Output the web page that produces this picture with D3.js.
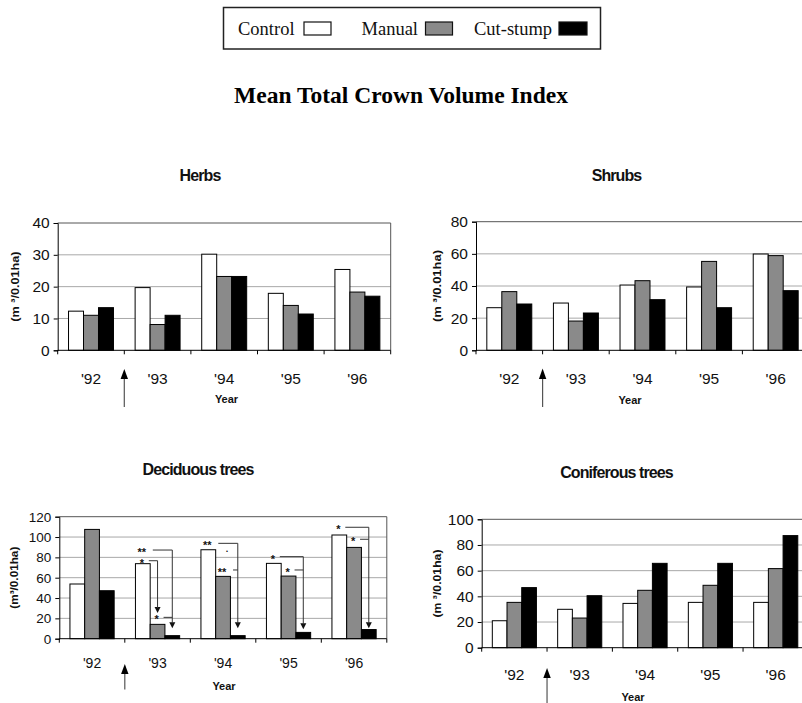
<!DOCTYPE html>
<html>
<head>
<meta charset="utf-8">
<script src="https://cdn.jsdelivr.net/npm/d3@7"></script>
<style>
  html, body { margin: 0; padding: 0; background: #fff; }
  svg { display: block; }
</style>
</head>
<body>
<div id="chart"></div>
<script>
// ---------------- DATA ----------------
const years = ["'92", "'93", "'94", "'95", "'96"];
const seriesNames = ["Control", "Manual", "Cut-stump"];
const seriesColors = ["#ffffff", "#8a8a8a", "#000000"];

const herbsControl = [12.3, 19.7, 30.2, 17.9, 25.4];
const herbsManual  = [11.0, 8.1, 23.2, 14.1, 18.3];
const herbsCut     = [13.4, 11.0, 23.2, 11.4, 17.0];

const shrubsControl = [26.5, 29.4, 40.6, 39.4, 59.9];
const shrubsManual  = [36.5, 18.2, 43.3, 55.3, 58.9];
const shrubsCut     = [28.8, 23.2, 31.5, 26.5, 37.1];

const decidControl = [53.8, 73.8, 87.5, 74.1, 102.0];
const decidManual  = [107.5, 14.1, 61.3, 61.6, 89.8];
const decidCut     = [47.2, 3.0, 3.0, 6.2, 9.0];

const conifControl = [21.0, 29.9, 34.5, 35.3, 35.3];
const conifManual  = [35.3, 23.1, 44.7, 48.6, 61.6];
const conifCut     = [46.8, 40.5, 65.7, 65.7, 87.3];

const herbsTicks = [0, 10, 20, 30, 40];
const shrubsTicks = [0, 20, 40, 60, 80];
const decidTicks = [0, 20, 40, 60, 80, 100, 120];
const conifTicks = [0, 20, 40, 60, 80, 100];

// significance annotations in the deciduous panel (values in data units)
const decidSig = [
  { year: "'93", from: "Control", to: "Cut-stump", label: "**", lineAt: 87.2, tipAt: 10.2 },
  { year: "'93", from: "Control", to: "Manual",    label: "*",  lineAt: 76.7, tipAt: 25.3 },
  { year: "'93", from: "Manual",  to: "Cut-stump", label: "*",  lineAt: 21.0, tipAt: null },
  { year: "'94", from: "Control", to: "Cut-stump", label: "**", lineAt: 93.8, tipAt: 10.2 },
  { year: "'94", from: "Manual",  to: null,        label: ".",  lineAt: 85.6, tipAt: null },
  { year: "'94", from: "Manual",  to: "Cut-stump", label: "**", lineAt: 67.6, tipAt: null },
  { year: "'95", from: "Control", to: "Cut-stump", label: "*",  lineAt: 80.7, tipAt: 9.2 },
  { year: "'95", from: "Manual",  to: "Cut-stump", label: "*",  lineAt: 67.6, tipAt: null },
  { year: "'96", from: "Control", to: "Cut-stump", label: "*",  lineAt: 109.6, tipAt: 10.2 },
  { year: "'96", from: "Manual",  to: "Cut-stump", label: "*",  lineAt: 97.8, tipAt: null }
];

const mainTitle = "Mean Total Crown Volume Index";

// ---------------- LAYOUT ----------------
const W = 802, H = 703;
const SANS = "'Liberation Sans', Arial, Helvetica, sans-serif";
const SERIF = "'Liberation Serif', 'Times New Roman', Times, serif";

const svg = d3.select("#chart").append("svg")
  .attr("width", W).attr("height", H)
  .attr("viewBox", `0 0 ${W} ${H}`);

// Legend
const legend = svg.append("g");
legend.append("rect")
  .attr("x", 223.5).attr("y", 7.5).attr("width", 377).attr("height", 41.5)
  .attr("fill", "none").attr("stroke", "#222").attr("stroke-width", 1.5);
const legendItems = [
  { tx: 238, sx: 304, sw: 27 },
  { tx: 361.5, sx: 425.5, sw: 27 },
  { tx: 474, sx: 559, sw: 28 }
];
seriesNames.forEach((name, i) => {
  legend.append("text")
    .attr("x", legendItems[i].tx).attr("y", 34.5)
    .attr("font-family", SERIF).attr("font-size", 18.5)
    .attr("fill", "#111").text(name);
  legend.append("rect")
    .attr("x", legendItems[i].sx).attr("y", 22).attr("width", legendItems[i].sw).attr("height", 13)
    .attr("fill", seriesColors[i]).attr("stroke", "#111").attr("stroke-width", 1.2);
});

// Main title
svg.append("text")
  .attr("x", 401).attr("y", 103)
  .attr("text-anchor", "middle")
  .attr("font-family", SERIF).attr("font-weight", "bold").attr("font-size", 23.5)
  .attr("fill", "#000").text(mainTitle);

const panels = [
  { title: "Herbs", titleX: 200, titleY: 180.5,
    left: 57.7, top: 223, width: 333, height: 127.3,
    values: [herbsControl, herbsManual, herbsCut], ticks: herbsTicks,
    tickFont: 15.5, xFont: 15.5, xLabelY: 384,
    ylabel: "(m ³/0.01ha)", ylabelX: 15, ylabelLen: 70,
    yearX: 226.5, yearY: 403,
    arrowTip: 369, arrowBase: 379, arrowBottom: 407 },
  { title: "Shrubs", titleX: 616.5, titleY: 180.5,
    left: 476, top: 221.7, width: 333, height: 128.6,
    values: [shrubsControl, shrubsManual, shrubsCut], ticks: shrubsTicks,
    tickFont: 15.5, xFont: 15.5, xLabelY: 384,
    ylabel: "(m ³/0.01ha)", ylabelX: 436.5, ylabelLen: 72,
    yearX: 630, yearY: 404,
    arrowTip: 368.5, arrowBase: 379, arrowBottom: 407 },
  { title: "Deciduous trees", titleX: 198, titleY: 475,
    left: 59.3, top: 516.7, width: 327.5, height: 122,
    values: [decidControl, decidManual, decidCut], ticks: decidTicks,
    tickFont: 13.5, xFont: 14, xLabelY: 668,
    ylabel: "(m³/0.01ha)", ylabelX: 14, ylabelLen: 62,
    yearX: 224, yearY: 690,
    arrowTip: 664, arrowBase: 674, arrowBottom: 689.5,
    sig: decidSig },
  { title: "Coniferous trees", titleX: 616.5, titleY: 477.5,
    left: 481.7, top: 519.3, width: 326.7, height: 128.4,
    values: [conifControl, conifManual, conifCut], ticks: conifTicks,
    tickFont: 15.5, xFont: 15.5, xLabelY: 680.5,
    ylabel: "(m ³/0.01ha)", ylabelX: 436.5, ylabelLen: 68,
    yearX: 633, yearY: 701,
    arrowTip: 668, arrowBase: 678, arrowBottom: 703 }
];

panels.forEach(drawPanel);

function drawPanel(p) {
  const g = svg.append("g").attr("transform", `translate(${p.left},${p.top})`);
  const yMax = p.ticks[p.ticks.length - 1];

  const x0 = d3.scaleBand().domain(years).range([0, p.width]).paddingInner(0).paddingOuter(0);
  const x1 = d3.scaleBand().domain(seriesNames).range([0, x0.bandwidth()])
    .paddingInner(0).paddingOuter(0.722);
  const y = d3.scaleLinear().domain([0, yMax]).range([p.height, 0]);

  // Title
  svg.append("text")
    .attr("x", p.titleX).attr("y", p.titleY).attr("text-anchor", "middle")
    .attr("font-family", SANS).attr("font-weight", "bold").attr("font-size", 16)
    .attr("letter-spacing", "-0.9px").attr("fill", "#111").text(p.title);

  // Gridlines
  g.append("g").selectAll("line")
    .data(p.ticks.filter(t => t > 0 && t < yMax))
    .join("line")
    .attr("x1", 0).attr("x2", p.width)
    .attr("y1", d => y(d)).attr("y2", d => y(d))
    .attr("stroke", "#a8a8a8").attr("stroke-width", 1);

  // Plot frame (top and right)
  g.append("path")
    .attr("d", `M0,${y(yMax)}H${p.width}V${y(0)}`)
    .attr("fill", "none").attr("stroke", "#555").attr("stroke-width", 1);

  // Bars
  seriesNames.forEach((s, si) => {
    g.append("g").selectAll("rect")
      .data(years.map((yr, i) => ({ yr, v: p.values[si][i] })))
      .join("rect")
      .attr("x", d => x0(d.yr) + x1(s))
      .attr("y", d => y(d.v))
      .attr("width", x1.bandwidth())
      .attr("height", d => y(0) - y(d.v))
      .attr("fill", seriesColors[si])
      .attr("stroke", "#000").attr("stroke-width", 1);
  });

  // Y axis
  const yAxis = d3.axisLeft(y).tickValues(p.ticks).tickSize(4).tickPadding(4).tickFormat(d3.format("d"));
  const ya = g.append("g").call(yAxis);
  ya.select(".domain").attr("stroke", "#000");
  ya.selectAll(".tick line").attr("stroke", "#000");
  ya.selectAll(".tick text").attr("font-family", SANS).attr("font-size", p.tickFont).attr("fill", "#111");

  // X axis line and category-boundary ticks
  g.append("line").attr("x1", 0).attr("x2", p.width).attr("y1", y(0)).attr("y2", y(0))
    .attr("stroke", "#000").attr("stroke-width", 1);
  const bounds = years.map(yr => x0(yr)).concat([x0.range()[1]]);
  g.append("g").selectAll("line").data(bounds).join("line")
    .attr("x1", d => d).attr("x2", d => d)
    .attr("y1", y(0)).attr("y2", y(0) + 4)
    .attr("stroke", "#000");

  // Category labels
  g.append("g").selectAll("text").data(years).join("text")
    .attr("x", d => x0(d) + x0.bandwidth() / 2)
    .attr("y", p.xLabelY - p.top)
    .attr("text-anchor", "middle")
    .attr("font-family", SANS).attr("font-size", p.xFont).attr("fill", "#111")
    .text(d => d);

  // Axis titles
  svg.append("text")
    .attr("x", p.yearX).attr("y", p.yearY).attr("text-anchor", "middle")
    .attr("font-family", SANS).attr("font-weight", "bold").attr("font-size", 11)
    .attr("fill", "#111").text("Year");

  const cy = p.top + p.height / 2;
  svg.append("text")
    .attr("transform", `translate(${p.ylabelX + 4},${cy}) rotate(-90)`)
    .attr("text-anchor", "middle")
    .attr("font-family", SANS).attr("font-weight", "bold").attr("font-size", 11)
    .attr("textLength", p.ylabelLen).attr("lengthAdjust", "spacingAndGlyphs")
    .attr("fill", "#111").text(p.ylabel);

  // Treatment arrow at boundary between '92 and '93
  const ax = p.left + x0(years[1]);
  svg.append("line")
    .attr("x1", ax).attr("x2", ax).attr("y1", p.arrowBase).attr("y2", p.arrowBottom)
    .attr("stroke", "#555").attr("stroke-width", 1.2);
  svg.append("path")
    .attr("d", `M${ax},${p.arrowTip}L${ax - 3.7},${p.arrowBase}L${ax + 3.7},${p.arrowBase}Z`)
    .attr("fill", "#000");

  // Significance annotations
  if (p.sig) {
    const cx = (yr, s) => x0(yr) + x1(s) + x1.bandwidth() / 2;
    p.sig.forEach(a => {
      const sx = cx(a.year, a.from);
      const ly = y(a.lineAt);
      const isDot = a.label === ".";
      g.append("text")
        .attr("x", isDot ? sx + 4 : sx - 1).attr("y", isDot ? ly : ly + 6)
        .attr("text-anchor", "middle")
        .attr("font-family", SANS).attr("font-weight", "bold")
        .attr("font-size", isDot ? 9 : 11).attr("fill", "#111")
        .text(a.label);
      if (a.to) {
        const tx = cx(a.year, a.to);
        const startX = sx + (a.label.length === 2 ? 10 : 6);
        let d = `M${startX},${ly}H${tx}`;
        if (a.tipAt !== null) {
          const tipY = y(a.tipAt);
          d += `V${tipY - 5}`;
          g.append("path")
            .attr("d", `M${tx},${tipY}L${tx - 3},${tipY - 6}L${tx + 3},${tipY - 6}Z`)
            .attr("fill", "#111");
        }
        g.append("path").attr("d", d)
          .attr("fill", "none").attr("stroke", "#333").attr("stroke-width", 1);
      }
    });
  }
}
</script>
</body>
</html>
